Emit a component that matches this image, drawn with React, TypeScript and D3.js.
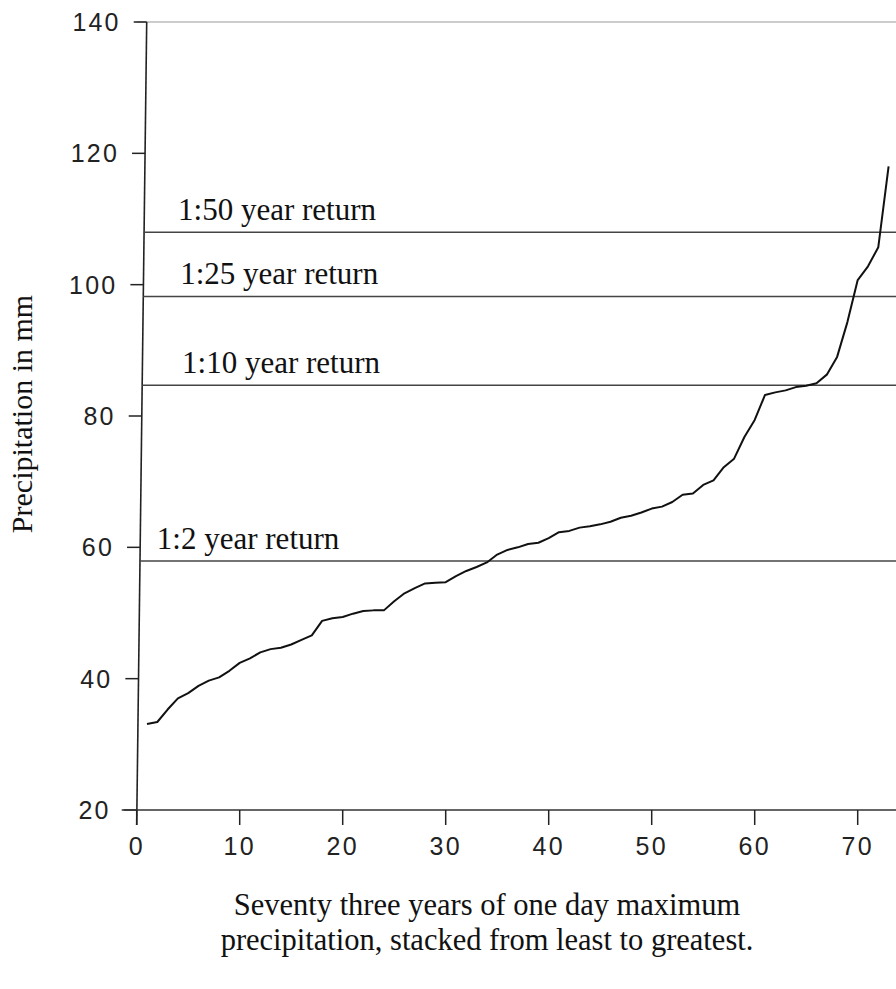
import React from "react";
import * as d3 from "d3";

// ---- data ----
const precipitation: number[] = [
  33.1, 33.4, 35.3, 37.0, 37.8, 38.9, 39.7, 40.2, 41.2, 42.4,
  43.1, 44.0, 44.5, 44.7, 45.2, 45.9, 46.6, 48.8, 49.2, 49.4,
  49.9, 50.3, 50.4, 50.4, 51.8, 53.0, 53.8, 54.5, 54.6, 54.7,
  55.6, 56.4, 57.0, 57.7, 58.9, 59.6, 60.0, 60.5, 60.7, 61.4,
  62.3, 62.5, 63.0, 63.2, 63.5, 63.9, 64.5, 64.8, 65.3, 65.9,
  66.2, 66.9, 68.0, 68.2, 69.5, 70.2, 72.2, 73.5, 76.8, 79.4,
  83.2, 83.6, 83.9, 84.4, 84.6, 85.0, 86.3, 89.0, 94.3, 100.7,
  102.8, 105.7, 118.0,
];
const returnLabels: string[] = ["1:50 year return", "1:25 year return", "1:10 year return", "1:2 year return"];
const returnValues: number[] = [108, 98.2, 84.7, 57.9];
const xTicks: number[] = [0, 10, 20, 30, 40, 50, 60, 70];
const yTicks: number[] = [20, 40, 60, 80, 100, 120, 140];
const yLabel = "Precipitation in mm";
const xTitle: string[] = ["Seventy three years of one day maximum", "precipitation, stacked from least to greatest."];

const W = 896;
const H = 989;
const LEAN = 10; // scanned axis leans right toward the top
const labelOffsetX = [2, 5, 8, -15];

export default function App() {
  const x = d3.scaleLinear().domain([0, 70]).range([136.7, 857.7]);
  const y = d3.scaleLinear().domain([20, 140]).range([810, 22]);
  const axisX = (v: number) => x(0) + (LEAN * (v - 20)) / 120;

  const line = d3
    .line<number>()
    .x((_, i) => x(i + 1))
    .y((d) => y(d));

  const sans = "'Liberation Sans', Arial, sans-serif";
  const serif = "'Liberation Serif', 'Times New Roman', serif";

  return (
    <svg
      width={W}
      height={H}
      style={{ position: "absolute", left: 0, top: 0, background: "#fff" }}
    >
      <rect x={0} y={0} width={W} height={H} fill="#fff" />
      {/* top border */}
      <line x1={axisX(140) - 10} x2={W} y1={y(140)} y2={y(140)} stroke="#999" strokeWidth={1} />
      {/* y axis */}
      <line x1={axisX(20)} y1={y(20) + 15} x2={axisX(140)} y2={y(140)} stroke="#222" strokeWidth={1.6} />
      {yTicks.map((t) => (
        <g key={"yt" + t}>
          <line x1={axisX(t) - 13} x2={axisX(t)} y1={y(t)} y2={y(t)} stroke="#222" strokeWidth={1.5} />
          <text
            x={axisX(t) - 26}
            y={y(t)}
            dy="0.36em"
            textAnchor="end"
            fontFamily={sans}
            fontSize={25}
            letterSpacing={2.2}
            fill="#222"
          >
            {t}
          </text>
        </g>
      ))}
      {/* x axis */}
      <line x1={axisX(20) - 15} x2={W} y1={y(20)} y2={y(20)} stroke="#333" strokeWidth={1.6} />
      {xTicks.map((t) => (
        <g key={"xt" + t}>
          <line x1={x(t)} x2={x(t)} y1={y(20)} y2={y(20) + 15} stroke="#222" strokeWidth={1.5} />
          <text
            x={x(t)}
            y={y(20) + 45}
            textAnchor="middle"
            fontFamily={sans}
            fontSize={25}
            letterSpacing={2.2}
            fill="#222"
          >
            {t}
          </text>
        </g>
      ))}
      {/* return period lines */}
      {returnValues.map((v, i) => (
        <g key={"rv" + i}>
          <line x1={axisX(v)} x2={W} y1={y(v)} y2={y(v)} stroke="#444" strokeWidth={1.5} />
          <text
            x={axisX(v) + 32 + labelOffsetX[i]}
            y={y(v) - 12}
            fontFamily={serif}
            fontSize={31}
            fill="#111"
          >
            {returnLabels[i]}
          </text>
        </g>
      ))}
      {/* data curve */}
      <path d={line(precipitation) || ""} fill="none" stroke="#111" strokeWidth={2} strokeLinejoin="round" />
      {/* y label */}
      <text
        transform={`translate(32, ${y(80) - 2}) rotate(-90)`}
        textAnchor="middle"
        fontFamily={serif}
        fontSize={30}
        fill="#111"
      >
        {yLabel}
      </text>
      {/* x title */}
      {xTitle.map((s, i) => (
        <text
          key={"xtl" + i}
          x={487}
          y={915 + i * 35}
          textAnchor="middle"
          fontFamily={serif}
          fontSize={30.5}
          fill="#111"
        >
          {s}
        </text>
      ))}
    </svg>
  );
}
